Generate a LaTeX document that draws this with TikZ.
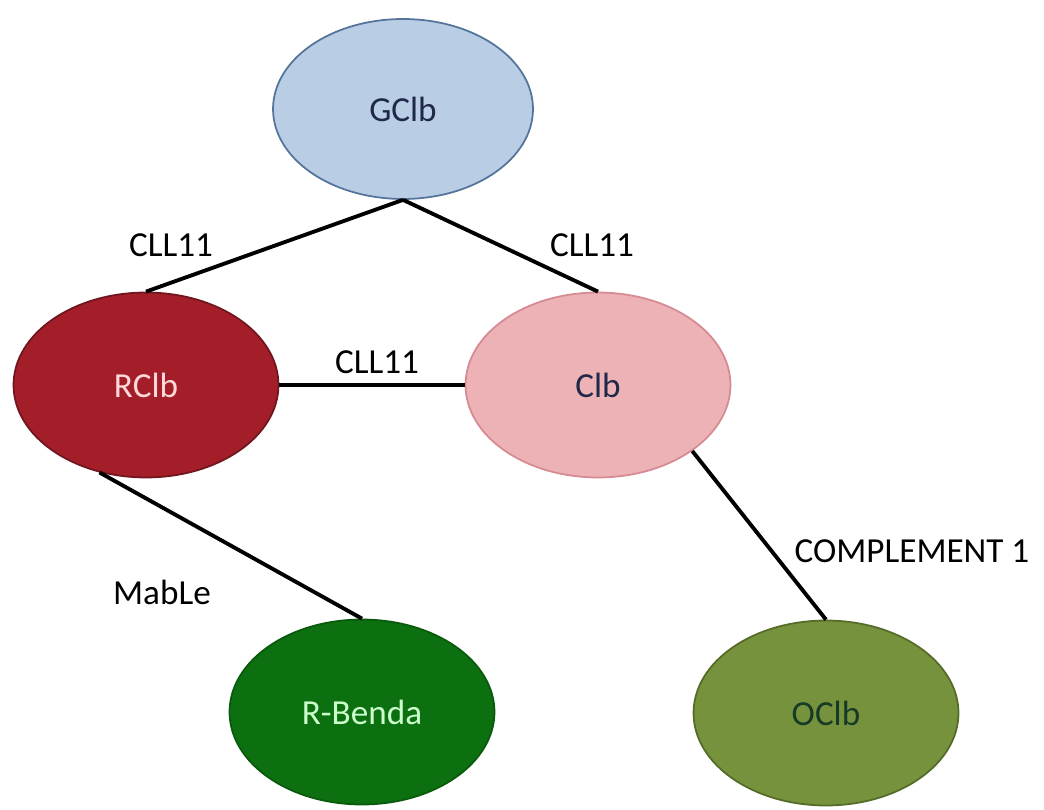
\documentclass[tikz,border=0pt]{standalone}
\usepackage{fontspec}
\setmainfont{Carlito}
\usetikzlibrary{shapes.geometric,positioning}

\definecolor{gblue}{RGB}{185,205,229}
\definecolor{gblueline}{RGB}{84,116,156}
\definecolor{rred}{RGB}{164,30,42}
\definecolor{rredline}{RGB}{112,22,30}
\definecolor{cpink}{RGB}{236,178,182}
\definecolor{cpinkline}{RGB}{214,138,146}
\definecolor{bgreen}{RGB}{12,112,16}
\definecolor{ogreen}{RGB}{118,146,60}
\definecolor{ogreenline}{RGB}{84,108,40}
\definecolor{navytext}{RGB}{31,40,72}
\definecolor{otext}{RGB}{22,58,40}

\begin{document}
\begin{tikzpicture}[
  x=0.02cm, y=-0.02cm,
  font=\fontsize{20}{24}\selectfont,
  blob/.style={draw, ellipse, line width=1pt, inner sep=0pt, minimum width=5.3cm, minimum height=3.7cm},
  link/.style={line width=2.2pt, black},
  lbl/.style={inner sep=0pt, text=black}
]
\useasboundingbox (0,0) rectangle (1044,810);

\node[blob, fill=gblue, draw=gblueline, text=navytext, minimum width=5.2cm, minimum height=3.6cm] (gclb) at (403,109) {GClb};
\node[blob, fill=rred, draw=rredline, text=pink!60] (rclb) at (146,385) {RClb};
\node[blob, fill=cpink, draw=cpinkline, text=navytext] (clb) at (598,385) {Clb};
\node[blob, fill=bgreen, draw=bgreen!80!black, text=green!20] (benda) at (362,712) {R-Benda};
\node[blob, fill=ogreen, draw=ogreenline, text=otext] (oclb) at (826,713) {OClb};

\draw[link] (gclb.south) -- (rclb.north);
\draw[link] (gclb.south) -- (clb.north);
\draw[link] (rclb.east) -- (clb.west);
\draw[link] (rclb.242) -- (benda.north);
\draw[link] (clb.325) -- (oclb.north);

\node[lbl] (l1) at (171,245) {CLL11};
\node[lbl] (l2) at (592,245) {CLL11};
\node[lbl] (l3) at (377,362) {CLL11};
\node[lbl] (l4) at (162,592) {MabLe};
\node[lbl] (l5) at (912,551) {COMPLEMENT 1};
\end{tikzpicture}
\end{document}
